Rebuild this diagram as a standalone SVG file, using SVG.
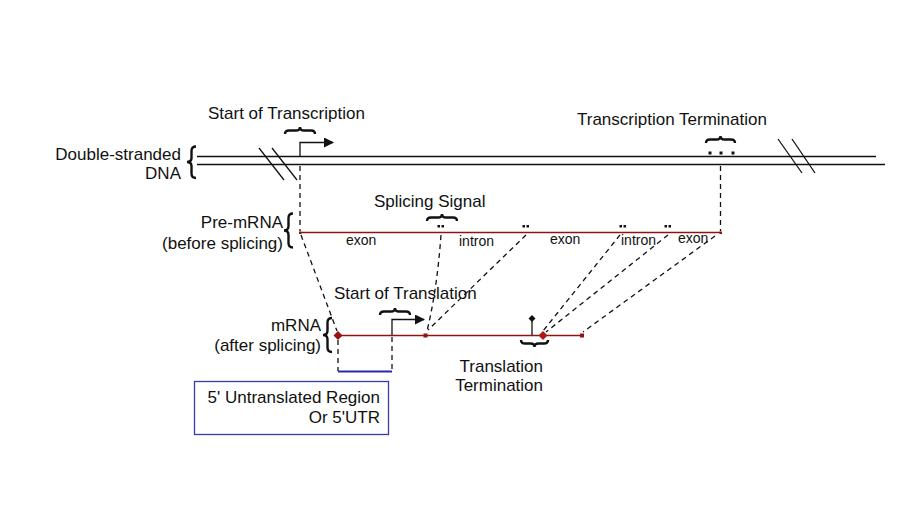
<svg xmlns="http://www.w3.org/2000/svg" width="922" height="512" viewBox="0 0 922 512">
<style>
text{font-family:"Liberation Sans",Arial,sans-serif;fill:#111}
.lbl{font-size:17px}
.sm{font-size:14px}
.r{text-anchor:end}
.dna{stroke:#111;stroke-width:1.3;fill:none}
.rna{stroke:#8e1414;stroke-width:1.6;fill:none}
.dash{stroke:#111;stroke-width:1.3;stroke-dasharray:5 4;fill:none}
.brace{stroke:#111;stroke-width:2.4;fill:none}
.sol{stroke:#111;stroke-width:1.3;fill:none}
.dot{fill:#111}
</style>
<defs>
<marker id="ah" viewBox="0 0 10 10" refX="9" refY="5" markerWidth="10" markerHeight="10" markerUnits="userSpaceOnUse" orient="auto">
<path d="M0,0 L10,5 L0,10 Z" fill="#111"/>
</marker>
</defs>
<rect width="922" height="512" fill="#fff"/>

<g id="dna">
<line class="dna" x1="197" y1="156.5" x2="876" y2="156.5"/>
<line class="dna" x1="197" y1="164.5" x2="885" y2="164.5"/>
<line class="dna" x1="259" y1="148" x2="284" y2="180"/>
<line class="dna" x1="272" y1="148" x2="297" y2="180"/>
<line class="dna" x1="778" y1="139" x2="802" y2="173"/>
<line class="dna" x1="792" y1="139" x2="815" y2="173"/>
<path class="brace" d="M196,146.5 Q191.5,146.5 191.5,151 L191.5,158 Q191.5,162 187,162 Q191.5,162 191.5,166 L191.5,173.5 Q191.5,178 196,178"/>
<text class="lbl r" x="181" y="160">Double-stranded</text>
<text class="lbl r" x="181" y="179">DNA</text>
</g>

<g id="transcription-start">
<text class="lbl" x="208" y="119">Start of Transcription</text>
<path class="brace" d="M285,134 Q285,130.5 289,130.5 L296,130.5 Q300,130.5 300,127 Q300,130.5 304,130.5 L311,130.5 Q315,130.5 315,134"/>
<polyline class="sol" points="300,156 300,142.5 333,142.5" marker-end="url(#ah)"/>
</g>

<g id="transcription-termination">
<text class="lbl" x="577" y="125">Transcription Termination</text>
<path class="brace" d="M706,143 Q706,139.5 710,139.5 L716.5,139.5 Q720.5,139.5 720.5,136 Q720.5,139.5 724.5,139.5 L731,139.5 Q735,139.5 735,143"/>
<rect class="dot" x="708.5" y="151.5" width="3" height="3"/>
<rect class="dot" x="719.5" y="151.5" width="3" height="3"/>
<rect class="dot" x="731.5" y="151.5" width="3" height="3"/>
</g>

<g id="pre-mrna">
<line class="rna" x1="300" y1="232.5" x2="721" y2="232.5"/>
<rect x="299" y="231.5" width="2.5" height="2.5" fill="#8e1414"/>
<rect x="719.5" y="231.5" width="2.5" height="2.5" fill="#8e1414"/>
<path class="brace" d="M293,213.5 Q288.5,213.5 288.5,218 L288.5,226 Q288.5,230.5 284,230.5 Q288.5,230.5 288.5,235 L288.5,243 Q288.5,247.5 293,247.5"/>
<text class="lbl r" x="283" y="228">Pre-mRNA</text>
<text class="lbl r" x="283" y="249">(before splicing)</text>
<text class="sm" x="346" y="245">exon</text>
<text class="sm" x="459" y="246">intron</text>
<text class="sm" x="550" y="244">exon</text>
<text class="sm" x="621" y="245">intron</text>
<text class="sm" x="678" y="243">exon</text>
</g>

<g id="splicing-signal">
<text class="lbl" x="374" y="207">Splicing Signal</text>
<path class="brace" d="M427,221 Q427,217.5 431,217.5 L438,217.5 Q442,217.5 442,214 Q442,217.5 446,217.5 L453,217.5 Q457,217.5 457,221"/>
<rect class="dot" x="437.5" y="225" width="2.5" height="2.5"/>
<rect class="dot" x="441.5" y="225" width="2.5" height="2.5"/>
<rect class="dot" x="522.5" y="225" width="2.5" height="2.5"/>
<rect class="dot" x="526.5" y="225" width="2.5" height="2.5"/>
<rect class="dot" x="619.5" y="225" width="2.5" height="2.5"/>
<rect class="dot" x="623.5" y="225" width="2.5" height="2.5"/>
<rect class="dot" x="664.5" y="225" width="2.5" height="2.5"/>
<rect class="dot" x="668.5" y="225" width="2.5" height="2.5"/>
</g>

<g id="mrna">
<line class="rna" x1="338" y1="335.5" x2="582" y2="335.5"/>
<path d="M338,331 L342.5,335.5 L338,340 L333.5,335.5 Z" fill="#9a1010"/>
<rect x="423.5" y="333.5" width="4" height="4" fill="#9a1010"/>
<path d="M543,331 L547.5,335.5 L543,340 L538.5,335.5 Z" fill="#b01818"/>
<rect x="580" y="333.5" width="4" height="4" fill="#9a1010"/>
<path class="brace" d="M332,318 Q327.5,318 327.5,322.5 L327.5,330.5 Q327.5,335 323,335 Q327.5,335 327.5,339.5 L327.5,347.5 Q327.5,352 332,352"/>
<text class="lbl r" x="321" y="331">mRNA</text>
<text class="lbl r" x="321" y="351">(after splicing)</text>
</g>

<g id="translation-start">
<text class="lbl" x="334" y="299">Start of Translation</text>
<path class="brace" d="M380,315 Q380,311.5 384,311.5 L391,311.5 Q395,311.5 395,308 Q395,311.5 399,311.5 L406,311.5 Q410,311.5 410,315"/>
<polyline class="sol" points="392,335 392,319.5 424,319.5" marker-end="url(#ah)"/>
</g>

<g id="translation-termination">
<line class="sol" x1="532" y1="335" x2="532" y2="321"/>
<path d="M532,315 L535.5,318.5 L532,322 L528.5,318.5 Z" fill="#111"/>
<path class="brace" d="M521,340 Q521,343.5 525,343.5 L530.5,343.5 Q534.5,343.5 534.5,347 Q534.5,343.5 538.5,343.5 L544,343.5 Q548,343.5 548,340"/>
<text class="lbl r" x="543" y="372">Translation</text>
<text class="lbl r" x="543" y="391">Termination</text>
</g>

<g id="utr">
<line x1="338" y1="371.5" x2="392" y2="371.5" stroke="#2a2aa8" stroke-width="2"/>
<rect x="194.5" y="381.5" width="194" height="53" fill="none" stroke="#3a3aa8" stroke-width="1.3"/>
<text class="lbl r" x="380" y="403">5' Untranslated Region</text>
<text class="lbl r" x="380" y="423">Or 5'UTR</text>
</g>

<g id="connectors">
<line class="dash" x1="300" y1="166" x2="300" y2="231"/>
<line class="dash" x1="720.5" y1="166" x2="720.5" y2="231"/>
<line class="dash" x1="301" y1="235" x2="337" y2="331"/>
<path class="dash" d="M441,235 Q437,290 427,331"/>
<line class="dash" x1="526" y1="235" x2="428" y2="330"/>
<line class="dash" x1="620" y1="235" x2="543" y2="331"/>
<line class="dash" x1="668" y1="235" x2="546" y2="332"/>
<line class="dash" x1="715" y1="236" x2="583" y2="332"/>
<line class="dash" x1="338" y1="340" x2="338" y2="371"/>
<line class="dash" x1="392" y1="337" x2="392" y2="371"/>
</g>
</svg>
